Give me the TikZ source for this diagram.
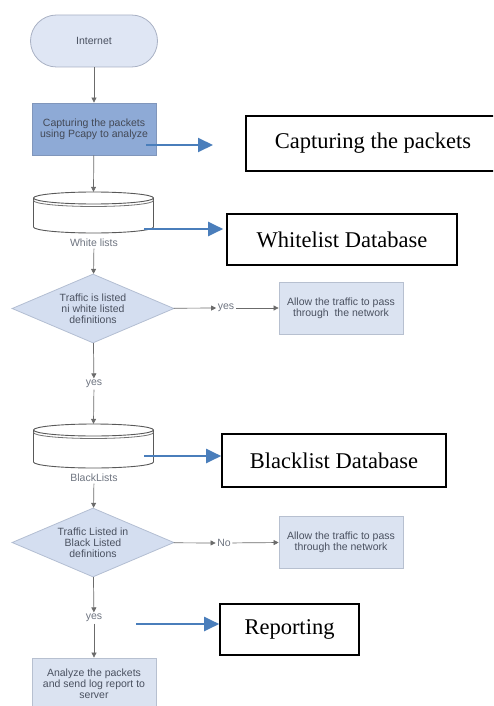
\documentclass[tikz,border=0pt]{standalone}
\usepackage{fontspec}
\setmainfont{Liberation Serif}
\newfontfamily\flowfont{Liberation Sans}
\usetikzlibrary{shapes.geometric,arrows.meta}
\definecolor{termfill}{HTML}{DFE6F4}
\definecolor{termdraw}{HTML}{A9B1C4}
\definecolor{capfill}{HTML}{8EAAD6}
\definecolor{capdraw}{HTML}{8096BB}
\definecolor{lightfill}{HTML}{DBE3F1}
\definecolor{lightdraw}{HTML}{B7C0D0}
\definecolor{diafill}{HTML}{D4DEF0}
\definecolor{diadraw}{HTML}{B3BED2}
\definecolor{flowtxt}{HTML}{4A5160}
\definecolor{conncol}{HTML}{6B6B6B}
\definecolor{bluearr}{HTML}{4A7EBB}
\newcommand\dbcyl[3]{%
  \filldraw[draw=black!65,fill=white,line width=0.9pt]
    (#1-60,#2+6) -- (#1-60,#3-6)
    arc[start angle=180,end angle=360,x radius=60pt,y radius=6pt]
    -- (#1+60,#2+6)
    arc[start angle=0,end angle=180,x radius=60pt,y radius=6pt] -- cycle;
  \draw[black!65,line width=0.9pt] (#1-60,#2+6)
    arc[start angle=180,end angle=360,x radius=60pt,y radius=6pt];
  \draw[black!55,line width=0.8pt] (#1-60,#2+8.5)
    arc[start angle=180,end angle=360,x radius=60pt,y radius=6pt];
}
\begin{document}
\begin{tikzpicture}[x=1pt,y=-1pt,
  flow/.style={font=\flowfont\fontsize{10.5}{11}\selectfont,text=flowtxt,align=center},
  term/.style={flow,draw=termdraw,fill=termfill,line width=0.8pt,minimum width=127pt,minimum height=52pt,rounded corners=26pt,inner sep=0pt},
  capbox/.style={flow,draw=capdraw,fill=capfill,line width=0.8pt,minimum width=124pt,minimum height=52pt,inner sep=0pt,text=flowtxt!90!black},
  lightbox/.style={flow,draw=lightdraw,fill=lightfill,line width=0.8pt,minimum width=124pt,minimum height=52pt,inner sep=0pt},
  decision/.style={flow,diamond,draw=diadraw,fill=diafill,line width=0.8pt,minimum width=162pt,minimum height=69pt,inner sep=0pt,aspect=2.35},
  lbl/.style={flow,inner sep=1.5pt,text=flowtxt!80},
  dbspot/.style={inner sep=0pt,minimum width=120pt},
  conn/.style={draw=conncol,line width=0.7pt,-{Triangle[length=5pt,width=5pt]}},
  bluelink/.style={draw=bluearr,line width=2pt,-{Triangle[length=15pt,width=14pt]}},
  notebox/.style={draw=black,line width=1.6pt,font=\fontsize{22.5}{26}\selectfont,inner sep=0pt}
]
\useasboundingbox (0,0) rectangle (493,706);
\clip (0,0) rectangle (493,706);

% flowchart
\node[term] (inet) at (94,41) {Internet};
\node[capbox] (cap) at (94,129) {Capturing the packets\\using Pcapy to analyze};

\dbcyl{93.5}{192}{233}
\node[dbspot,minimum height=41pt] (wl) at (93.5,212.5) {};
\node[lbl] (wlab) at (94,243) {White lists};

\node[decision] (d1) at (93,308.5) {Traffic is listed\\ni white listed\\definitions};
\node[lbl] (yes1) at (226,308) {yes};
\node[lightbox] (allow1) at (341,308) {Allow the traffic to pass\\through\ \ the network};
\node[lbl] (yes2) at (94,384) {yes};

\dbcyl{93.5}{424}{468}
\node[dbspot,minimum height=44pt] (bl) at (93.5,446) {};
\node[lbl] (blab) at (94,478) {BlackLists};

\node[decision] (d2) at (93,542.5) {Traffic Listed in\\Black Listed\\definitions};
\node[lbl] (no) at (224,543) {No};
\node[lightbox] (allow2) at (341,542) {Allow the traffic to pass\\through the network};
\node[lbl] (yes3) at (94,618) {yes};
\node[lightbox] (final) at (94,684) {Analyze the packets\\and send log report to\\server};

% connectors
\draw[conn] (inet) -- (cap);
\draw[conn] (cap) -- (wl.north);
\draw[conn] (wlab) -- (d1);
\draw[conn] (d1) -- (yes1);
\draw[conn] (yes1) -- (allow1);
\draw[conn] (d1) -- (yes2);
\draw[conn] (yes2) -- (bl.north);
\draw[conn] (blab) -- (d2);
\draw[conn] (d2) -- (no);
\draw[conn] (no) -- (allow2);
\draw[conn] (d2) -- (yes3);
\draw[conn] (yes3) -- (final);

% annotation boxes
\node[notebox,minimum width=254pt,minimum height=55pt] (capnote) at (373,143.5) {Capturing the packets};
\node[notebox,minimum width=230pt,minimum height=51pt] (wdb) at (342,239.5) {Whitelist Database};
\node[notebox,minimum width=224pt,minimum height=53pt] (bdb) at (334,460.5) {Blacklist Database};
\node[notebox,minimum width=139pt,minimum height=51pt] (rep) at (289.5,629.5) {Reporting};

% blue arrows
\coordinate (a1s) at (146,145);
\coordinate (a1e) at (213,145);
\coordinate (a2s) at (144,229);
\coordinate (a3s) at (144,456);
\coordinate (a4s) at (136,624);
\draw[bluelink] (a1s) -- (a1e);
\draw[bluelink,shorten >=3pt] (a2s) -- (wdb.west |- a2s);
\draw[bluelink] (a3s) -- (bdb.west |- a3s);
\draw[bluelink] (a4s) -- (rep.west |- a4s);
\end{tikzpicture}
\end{document}
